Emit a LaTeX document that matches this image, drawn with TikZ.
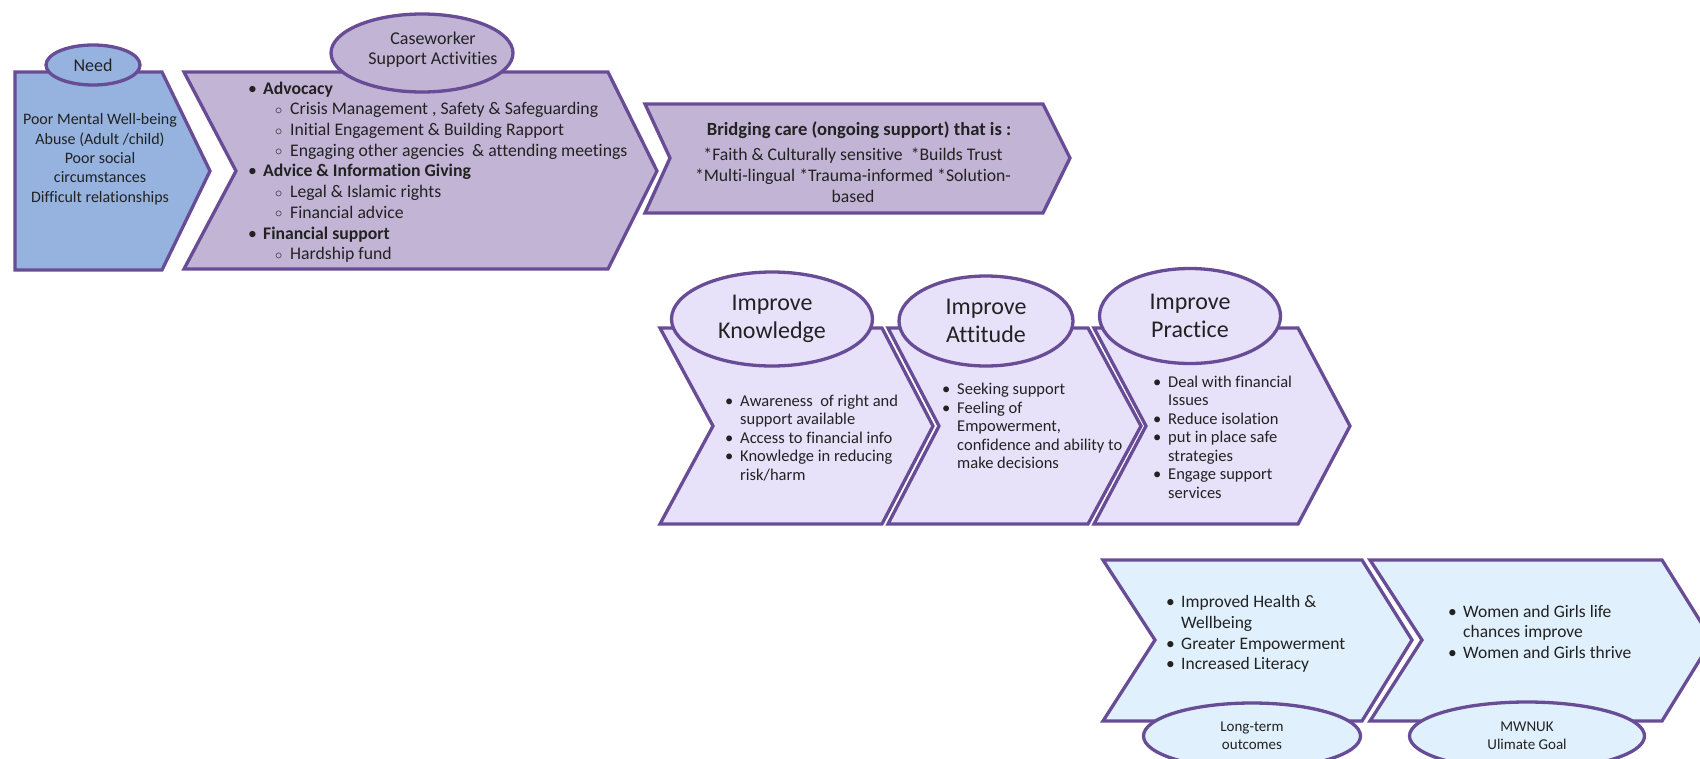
\documentclass[tikz,border=0pt]{standalone}
\usepackage{fontspec}
\setmainfont{Carlito}[Ligatures=NoCommon]
\usetikzlibrary{shapes.geometric}

\definecolor{edge}{HTML}{684C96}
\definecolor{needfill}{HTML}{95B3DE}
\definecolor{workfill}{HTML}{C1B4D4}
\definecolor{gainfill}{HTML}{E8E1FA}
\definecolor{goalfill}{HTML}{E0F0FC}
\definecolor{ink}{HTML}{222222}

% list helpers
\newcommand{\itm}{\strut\makebox[15pt][l]{\textbullet}}
\newcommand{\ind}{\strut\hspace*{15pt}}
\newcommand{\subitm}{\strut\hspace*{27pt}\makebox[15pt][l]{\raisebox{0.5pt}{\fontsize{15}{15}\selectfont$\circ$}}}

\begin{document}
\begin{tikzpicture}
     [x=1pt,y=-1pt,line join=miter,
      % Styles
        chevron/.style={draw=edge,line width=3.3pt},
        oval/.style={ellipse,draw=edge,line width=3.3pt,inner sep=0pt,text=ink},
        list text/.style={anchor=north west,inner sep=0pt,align=left,text=ink},
        small list/.style={list text,font=\fontsize{16.5}{18.5}\selectfont},
        big list/.style={list text,font=\fontsize{17.5}{20.7}\selectfont}]
    \useasboundingbox (0,0) rectangle (1700,758);

    % top row
    \draw[chevron,fill=needfill] (15,72) -- (162,72) -- (210,171) -- (162,270) -- (15,270) -- cycle;
    \draw[chevron,fill=workfill] (184,72) -- (608,72) -- (657,171) -- (608,269) -- (184,269) -- (236,171) -- cycle;
    \draw[chevron,fill=workfill] (645,104) -- (1043,104) -- (1070,158) -- (1043,213) -- (645,213) -- (670,158) -- cycle;

    % middle row
    \draw[chevron,fill=gainfill] (660,328) -- (882,328) -- (933,426) -- (882,524) -- (660,524) -- (713,426) -- cycle;
    \draw[chevron,fill=gainfill] (888,328) -- (1088,328) -- (1141,426) -- (1088,524) -- (888,524) -- (939,426) -- cycle;
    \draw[chevron,fill=gainfill] (1094,328) -- (1298,328) -- (1350,426) -- (1298,524) -- (1094,524) -- (1146,426) -- cycle;

    % bottom row
    \draw[chevron,fill=goalfill] (1103,560) -- (1362,560) -- (1412,640) -- (1362,721) -- (1103,721) -- (1155,640) -- cycle;
    \draw[chevron,fill=goalfill] (1370,560) -- (1662,560) -- (1712,640) -- (1662,721) -- (1370,721) -- (1422,640) -- cycle;

    % headings
    \node[oval,fill=needfill,minimum width=94pt,minimum height=40pt,font=\fontsize{18}{20}\selectfont] (needoval) at (93,65) {Need};
    \node[oval,fill=workfill,minimum width=182pt,minimum height=78pt] (workoval) at (422,53) {};
    \node[align=center,text=ink,inner sep=0pt,font=\fontsize{18}{20}\selectfont] (worklabel) at (433,50) {Caseworker\\Support Activities};
    \node[oval,fill=gainfill,minimum width=201pt,minimum height=94pt,align=center,font=\fontsize{24}{28.5}\selectfont] (knowoval) at (772,319) {Improve\\Knowledge};
    \node[oval,fill=gainfill,minimum width=174pt,minimum height=90pt,align=center,font=\fontsize{24}{28.5}\selectfont] (attoval) at (986,321) {Improve\\Attitude};
    \node[oval,fill=gainfill,minimum width=181pt,minimum height=95pt,align=center,font=\fontsize{24}{28.5}\selectfont] (pracoval) at (1190,316) {Improve\\Practice};
    \node[oval,fill=goalfill,minimum width=217pt,minimum height=66pt,align=center,font=\fontsize{15}{18}\selectfont] (longoval) at (1252,736) {Long-term\\outcomes};
    \node[oval,fill=goalfill,minimum width=235pt,minimum height=68pt,align=center,font=\fontsize{15}{18}\selectfont] (goaloval) at (1527,736) {MWNUK\\Ulimate Goal};

    % texts
    \node[anchor=north,align=center,inner sep=0pt,text=ink,font=\fontsize{16}{19.3}\selectfont] (needtext) at (100,111.2)
      {\strut Poor Mental Well-being\\Abuse (Adult /child)\\Poor social\\circumstances\\Difficult relationships};
    \node[list text,font=\fontsize{17.7}{20.7}\selectfont] (worklist) at (248,79.5)
      {\itm\textbf{Advocacy}\\
       \subitm Crisis Management , Safety \& Safeguarding\\
       \subitm Initial Engagement \& Building Rapport\\
       \subitm Engaging other agencies~ \& attending meetings\\
       \itm\textbf{Advice \& Information Giving}\\
       \subitm Legal \& Islamic rights\\
       \subitm Financial advice\\
       \itm\textbf{Financial support}\\
       \subitm Hardship fund};
    \node[anchor=base,inner sep=0pt,text=ink,font=\bfseries\fontsize{18.6}{22}\selectfont] (bridgehead) at (859,135.5)
      {Bridging care (ongoing support) that is :};
    \node[anchor=north,align=center,inner sep=0pt,text=ink,font=\fontsize{17.7}{20.6}\selectfont] (bridgetext) at (853,146.3)
      {\strut*Faith \& Culturally sensitive~ *Builds Trust\\*Multi-lingual *Trauma-informed *Solution-\\based};

    \node[small list] (knowlist) at (725,392.9)
      {\itm Awareness~ of right and\\ \ind support available\\ \itm Access to financial info\\ \itm Knowledge in reducing\\ \ind risk/harm};
    \node[small list] (attlist) at (942,381.5)
      {\itm Seeking support\\ \itm Feeling of\\ \ind Empowerment,\\ \ind confidence and ability to\\ \ind make decisions};
    \node[small list] (praclist) at (1153,373.9)
      {\itm Deal with financial\\ \ind Issues\\ \itm Reduce isolation\\ \itm put in place safe\\ \ind strategies\\ \itm Engage support\\ \ind services};

    \node[big list] (longlist) at (1166,593)
      {\itm Improved Health \&\\ \ind Wellbeing\\ \itm Greater Empowerment\\ \itm Increased Literacy};
    \node[big list] (goallist) at (1448,602.5)
      {\itm Women and Girls life\\ \ind chances improve\\ \itm Women and Girls thrive};
  \end{tikzpicture}
\end{document}
